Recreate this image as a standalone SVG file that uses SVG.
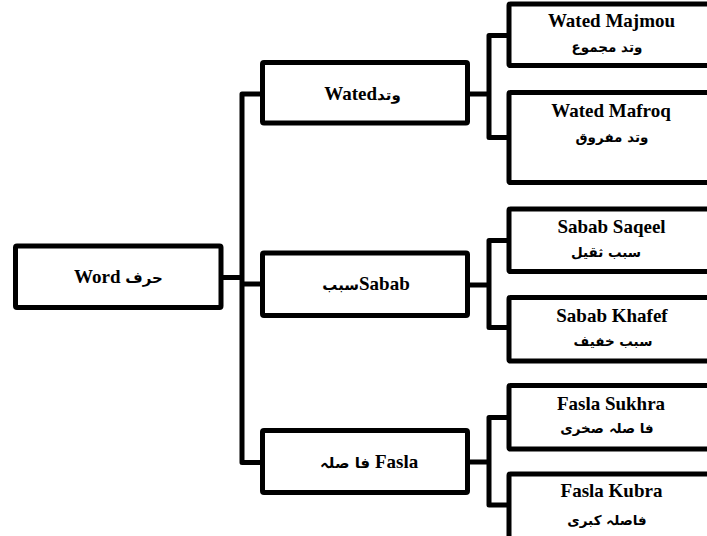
<svg xmlns="http://www.w3.org/2000/svg" width="707" height="536" viewBox="0 0 707 536">
<style>
.box{fill:#fff;stroke:#000;stroke-width:5;stroke-linejoin:round}
.con{fill:none;stroke:#000;stroke-width:5;stroke-linejoin:round;stroke-linecap:butt}
.lt{font-family:"Liberation Serif","DejaVu Sans",serif;font-weight:bold;font-size:19px;fill:#000;text-anchor:middle}
.ar{font-family:"DejaVu Sans","Noto Sans",sans-serif;font-weight:bold;font-size:13.5px;fill:#000;text-anchor:middle}
.am{font-family:"DejaVu Sans","Noto Sans",sans-serif;font-size:15px}
</style>
<rect width="707" height="536" fill="#fff"/>
<g id="connectors">
<path class="con" d="M221,277.5H242M262.5,94H242V462.5H262.5M242,284H262.5"/>
<path class="con" d="M467.5,94H489M509,35.5H489V137.5H509"/>
<path class="con" d="M467.5,285H489M509,240.5H489V327.5H509"/>
<path class="con" d="M467.5,462H489M509,417.5H489V505H509"/>
</g>
<g id="word">
<rect class="box" x="15.5" y="246" width="205.5" height="61.5" rx="1.5"/>
<text class="lt" x="118.5" y="283">Word <tspan class="am">حرف</tspan></text>
</g>
<g id="wated">
<rect class="box" x="262.5" y="62.5" width="205" height="60.5" rx="1.5"/>
<text class="lt" x="362.5" y="100">Wated<tspan class="am">وتد</tspan></text>
</g>
<g id="sabab">
<rect class="box" x="262.5" y="253" width="205" height="62.5" rx="1.5"/>
<text class="lt" x="366" y="290"><tspan class="am">سبب</tspan>Sabab</text>
</g>
<g id="fasla">
<rect class="box" x="262.5" y="430.5" width="205" height="62" rx="1.5"/>
<text class="lt" x="369" y="468"><tspan class="am">فا صلہ</tspan> Fasla</text>
</g>
<g id="wated-majmou">
<rect class="box" x="509" y="4" width="220" height="61.5" rx="1.5"/>
<text class="lt" x="611.5" y="27">Wated Majmou</text>
<text class="ar" x="607" y="52">وتد مجموع</text>
</g>
<g id="wated-mafroq">
<rect class="box" x="509" y="92.5" width="220" height="90" rx="1.5"/>
<text class="lt" x="611" y="117">Wated Mafroq</text>
<text class="ar" x="612" y="142">وتد مفروق</text>
</g>
<g id="sabab-saqeel">
<rect class="box" x="509" y="209" width="220" height="62.5" rx="1.5"/>
<text class="lt" x="611.5" y="233">Sabab Saqeel</text>
<text class="ar" x="606" y="257">سبب ثقيل</text>
</g>
<g id="sabab-khafef">
<rect class="box" x="509" y="297.5" width="220" height="63.5" rx="1.5"/>
<text class="lt" x="612" y="322">Sabab Khafef</text>
<text class="ar" x="613" y="346">سبب خفيف</text>
</g>
<g id="fasla-sukhra">
<rect class="box" x="509" y="385.5" width="220" height="63.5" rx="1.5"/>
<text class="lt" x="611" y="410">Fasla Sukhra</text>
<text class="ar" x="607" y="433">فا صلہ صخری</text>
</g>
<g id="fasla-kubra">
<rect class="box" x="509" y="474" width="220" height="80" rx="1.5"/>
<text class="lt" x="611.5" y="497">Fasla Kubra</text>
<text class="ar" x="607" y="525">فاصلہ کبری</text>
</g>
</svg>
